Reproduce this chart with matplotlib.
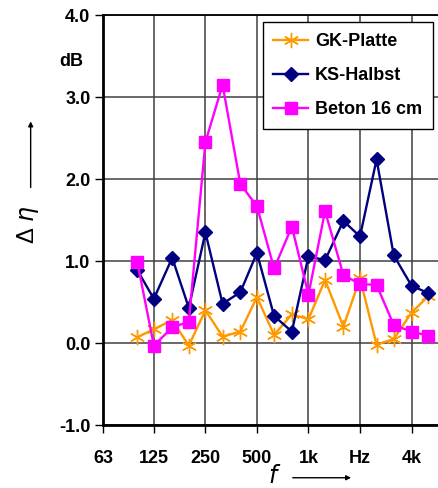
import numpy as np
import matplotlib
matplotlib.use('Agg')
from matplotlib import pyplot as plt

# third-octave bands, Hz
freqs = [100, 125, 160, 200, 250, 315, 400, 500, 630, 800,
         1000, 1250, 1600, 2000, 2500, 3150, 4000, 5000]

gk_platte = [0.07, 0.17, 0.28, -0.03, 0.40, 0.08, 0.14, 0.56, 0.10, 0.35,
             0.29, 0.77, 0.20, 0.79, -0.02, 0.05, 0.37, 0.57]
ks_halbst = [0.89, 0.54, 1.04, 0.43, 1.35, 0.48, 0.62, 1.10, 0.33, 0.14,
             1.06, 1.01, 1.49, 1.30, 2.24, 1.07, 0.70, 0.61]
beton_16 = [0.99, -0.03, 0.19, 0.26, 2.45, 3.15, 1.94, 1.67, 0.91, 1.42,
            0.59, 1.61, 0.83, 0.72, 0.71, 0.22, 0.14, 0.09]

xticks = [63, 125, 250, 500, 1000, 2000, 4000]
xticklabels = ['63', '125', '250', '500', '1k', 'Hz', '4k']
yticks = [-1.0, 0.0, 1.0, 2.0, 3.0, 4.0]

plt.rcParams['font.family'] = ['Liberation Sans', 'DejaVu Sans']

fig = plt.figure(figsize=(4.38, 4.88), dpi=100)
ax = fig.add_axes([0.235, 0.129, 0.78, 0.840])

ax.plot(freqs, gk_platte, color='#FF9900', lw=1.7, marker=(6, 2, 0),
        ms=11, mew=1.0, label='GK-Platte', zorder=3)
ax.plot(freqs, ks_halbst, color='#000080', lw=1.7, marker='D',
        ms=7, label='KS-Halbst', zorder=3)
ax.plot(freqs, beton_16, color='#FF00FF', lw=1.7, marker='s',
        ms=8, label='Beton 16 cm', zorder=3)

ax.set_xscale('log')
ax.set_xlim(63, 63 * 2 ** 6.63)
ax.set_ylim(-1.0, 4.0)
ax.set_xticks(xticks)
ax.set_xticklabels(xticklabels)
ax.minorticks_off()
ax.set_yticks(yticks)
ax.set_yticklabels(['%.1f' % v for v in yticks])
ax.tick_params(axis='both', direction='out', length=6, width=1,
               labelsize=13, pad=3)
ax.tick_params(axis='x', pad=12)
for lab in ax.get_xticklabels() + ax.get_yticklabels():
    lab.set_fontweight('bold')

ax.grid(True, color='#404040', lw=1.1)
for s in ['left', 'bottom']:
    ax.spines[s].set_linewidth(2)
ax.spines['top'].set_linewidth(1.3)
ax.spines['right'].set_visible(False)

leg = ax.legend(loc='upper right', bbox_to_anchor=(0.966, 0.983),
                prop={'weight': 'bold', 'size': 13}, fancybox=False,
                framealpha=1, edgecolor='black', handlelength=1.9,
                labelspacing=0.95, borderpad=0.6, handletextpad=0.4,
                borderaxespad=0)
leg.get_frame().set_linewidth(1.0)

# unit and axis labels
fig.text(0.162, 0.875, 'dB', fontsize=13, fontweight='bold',
         ha='center', va='center')
fig.text(0.065, 0.54, '\u0394 $\\eta$', fontsize=17, rotation=90,
         ha='center', va='center')
ax.annotate('', xy=(0.070, 0.757), xycoords='figure fraction',
            xytext=(0.070, 0.610),
            arrowprops=dict(arrowstyle='-|>', color='black', lw=1,
                            mutation_scale=7))
fig.text(0.627, 0.024, '$f$', fontsize=17, ha='center', va='center',
         family='DejaVu Serif')
ax.annotate('', xy=(0.808, 0.021), xycoords='figure fraction',
            xytext=(0.662, 0.021),
            arrowprops=dict(arrowstyle='-|>', color='black', lw=1,
                            mutation_scale=7))

fig.savefig('out.png', dpi=100)
